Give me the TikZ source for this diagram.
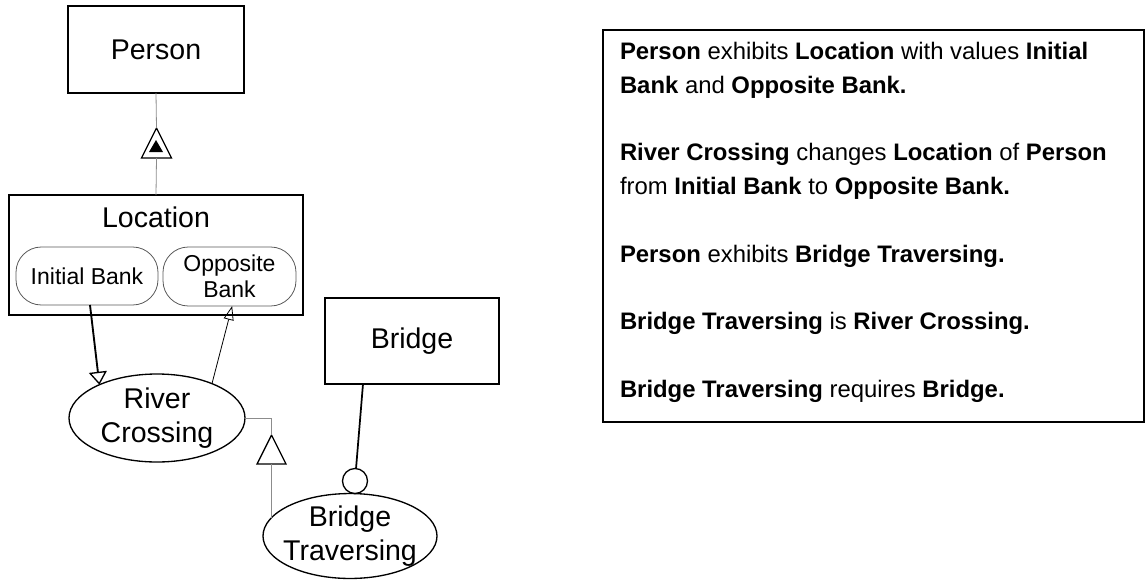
\documentclass[tikz,border=0pt]{standalone}
\usepackage{fontspec}
\setmainfont{Liberation Sans}
\usetikzlibrary{arrows.meta,shapes.geometric}

\begin{document}
\begin{tikzpicture}[x=0.75pt,y=-0.75pt,
  every node/.style={inner sep=0pt, outer sep=0pt},
  labelfont/.style={font=\fontsize{21.4pt}{25.1pt}\selectfont},
  object/.style={draw, line width=1pt, rectangle, labelfont},
  process/.style={draw, line width=1pt, ellipse, align=center, labelfont},
  state/.style={draw=black!65, line width=0.6pt, rectangle, rounded corners=19pt,
    align=center, font=\fontsize{17.25pt}{19.5pt}\selectfont},
  faint/.style={draw=black!45, line width=0.6pt},
  tri/.style={isosceles triangle, isosceles triangle stretches,
    shape border rotate=90, draw, fill=white, line width=1pt},
]
\useasboundingbox (0,0) rectangle (1146,579);

% objects
\node[object, minimum width=132pt, minimum height=65.25pt] (person) at (156,49.5) {Person};
\node[object, minimum width=220.5pt, minimum height=90pt] (location) at (156,255) {};
\node[labelfont] (loctitle) at (156,217) {Location};
\node[object, minimum width=130.5pt, minimum height=64.5pt] (bridge) at (412,341) {Bridge};

% states of Location
\node[state, minimum width=106.5pt, minimum height=43.5pt] (initial) at (87,276) {Initial Bank};
\node[state, minimum width=99.75pt, minimum height=44.25pt] (opposite) at (229.5,276.5) {Opposite\\Bank};

% processes
\node[process, minimum width=132pt, minimum height=66pt] (crossing) at (157,418) {River\\Crossing};
\node[process, inner xsep=-8pt, minimum width=130.5pt, minimum height=63pt] (traversing) at (350,536) {Bridge\\Traversing};

% exhibition-characterization symbol
\node[tri, minimum width=22.5pt, minimum height=22.5pt, anchor=apex] (exhibit) at (156.5,128) {};
\node[isosceles triangle, isosceles triangle stretches, shape border rotate=90,
  fill=black, minimum width=10.5pt, minimum height=9pt, anchor=lower side] (exhibitcore) at (156,152) {};
\draw[faint] (person.south) -- (exhibit.apex);
\draw[faint] (exhibit.lower side) -- (location.north);

% generalization symbol
\node[tri, minimum width=21.75pt, minimum height=21.75pt, anchor=apex] (general) at (271.5,435) {};
\draw[faint] (crossing.east) -| (general.apex);
\draw[faint] (general.lower side) -- (general.lower side |- traversing.167);

% input and output links
\draw[line width=1.4pt, -{Triangle[open, length=9.75pt, width=13.5pt, line width=1pt]}]
  ([xshift=2.25pt]initial.south) -- (crossing.150);
\draw[line width=0.6pt, -{Triangle[open, length=10.5pt, width=7.5pt]}]
  (crossing.32) -- ([xshift=2pt]opposite.south);

% instrument link
\node[draw, circle, fill=white, line width=1pt, minimum size=18.75pt] (instrument) at (355,481) {};
\draw[line width=1.3pt] ([xshift=28.5pt]bridge.south west) -- (instrument);

% statements
\node[draw, line width=1.2pt, minimum width=405.75pt, minimum height=294pt] (statements) at (873.5,226) {};
\node[anchor=north west, align=left, font=\fontsize{17.9pt}{25.35pt}\selectfont] (sentences) at (620,41.9)
{\textbf{Person} exhibits \textbf{Location} with values \textbf{Initial}\\
 \textbf{Bank} and \textbf{Opposite Bank.}\\[25.35pt]
 \textbf{River Crossing} changes \textbf{Location} of \textbf{Person}\\
 from \textbf{Initial Bank} to \textbf{Opposite Bank.}\\[25.35pt]
 \textbf{Person} exhibits \textbf{Bridge Traversing.}\\[25.35pt]
 \textbf{Bridge Traversing} is \textbf{River Crossing.}\\[25.35pt]
 \textbf{Bridge Traversing} requires \textbf{Bridge.}};
\end{tikzpicture}
\end{document}
